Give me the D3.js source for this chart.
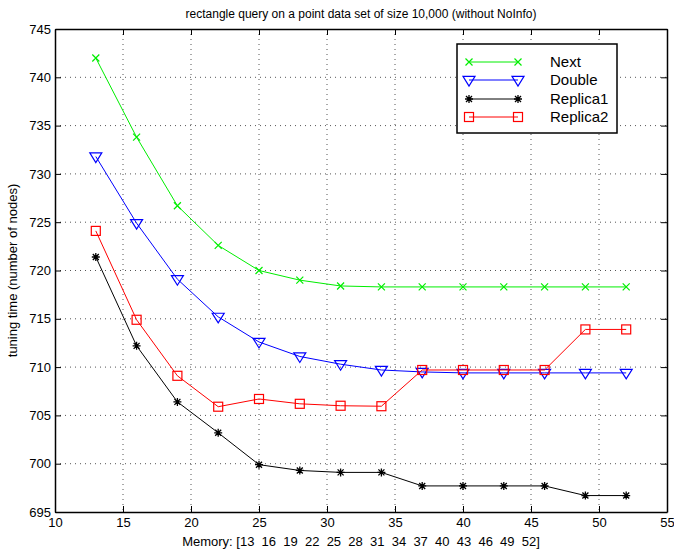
<!DOCTYPE html>
<html><head><meta charset="utf-8">
<script src="https://cdn.jsdelivr.net/npm/d3@7"></script>
<style>body{margin:0;background:#fff}svg{display:block;font-family:"Liberation Sans",Arial,sans-serif}</style>
</head><body><div id="chart"></div>
<script>
const memory = [13,16,19,22,25,28,31,34,37,40,43,46,49,52];
const nextVals = [742,733.8,726.7,722.6,720,719,718.4,718.3,718.3,718.3,718.3,718.3,718.3,718.3];
const doubleVals = [731.8,724.9,719.1,715.2,712.6,711.1,710.3,709.7,709.5,709.4,709.4,709.4,709.4,709.4];
const replica1Vals = [721.4,712.2,706.4,703.2,699.9,699.3,699.1,699.1,697.7,697.7,697.7,697.7,696.7,696.7];
const replica2Vals = [724.1,714.9,709.1,705.9,706.7,706.2,706.0,705.95,709.7,709.7,709.7,709.7,713.9,713.9];
const seriesNames = ["Next","Double","Replica1","Replica2"];
const seriesColors = ["#00ee00","#0000ff","#000000","#ff0000"];
const seriesMarkers = ["x","tri","star","square"];
const xTicks = [10,15,20,25,30,35,40,45,50,55];
const yTicks = [695,700,705,710,715,720,725,730,735,740,745];
const titleText = "rectangle query on a point data set of size 10,000 (without NoInfo)";
const xLabel = "Memory: [13  16  19  22  25  28  31  34  37  40  43  46  49  52]";
const yLabel = "tuning time (number of nodes)";

const W = 674, H = 552;
const L = 55, R = 667, T = 29, B = 512;
const svg = d3.select("#chart").append("svg").attr("width", W).attr("height", H);
const x = d3.scaleLinear().domain([10,55]).range([L,R]);
const y = d3.scaleLinear().domain([695,745]).range([B,T]);

// grid
const g = svg.append("g");
xTicks.slice(1,-1).forEach(t => g.append("line").attr("x1",x(t)).attr("x2",x(t)).attr("y1",T).attr("y2",B)
  .attr("stroke","#555").attr("stroke-width",1).attr("stroke-dasharray","1,4"));
yTicks.slice(1,-1).forEach(t => g.append("line").attr("x1",L).attr("x2",R).attr("y1",y(t)).attr("y2",y(t))
  .attr("stroke","#555").attr("stroke-width",1).attr("stroke-dasharray","1,4"));

// axes with inward ticks
const ax = svg.append("g").attr("font-size",13);
const axBottom = ax.append("g").attr("transform",`translate(0,${B})`).call(d3.axisBottom(x).tickValues(xTicks).tickSizeInner(-6).tickSizeOuter(0).tickPadding(10));
const axTop = ax.append("g").attr("transform",`translate(0,${T})`).call(d3.axisTop(x).tickValues(xTicks).tickSizeInner(-6).tickSizeOuter(0).tickFormat(""));
const axLeft = ax.append("g").attr("transform",`translate(${L},0)`).call(d3.axisLeft(y).tickValues(yTicks).tickSizeInner(-6).tickSizeOuter(0).tickPadding(10));
const axRight = ax.append("g").attr("transform",`translate(${R},0)`).call(d3.axisRight(y).tickValues(yTicks).tickSizeInner(-6).tickSizeOuter(0).tickFormat(""));
ax.selectAll(".domain").attr("stroke","#000").attr("stroke-width",1.5);
ax.selectAll(".tick line").attr("stroke","#000");
ax.selectAll("text").attr("font-family","Liberation Sans, Arial, sans-serif").attr("font-size",13).attr("fill","#000");
axBottom.selectAll("text").attr("dy","0.71em").attr("y",6);
axLeft.selectAll("text").attr("x",-4);

// title & labels
svg.append("text").attr("x",(L+R)/2).attr("y",18).attr("text-anchor","middle").attr("font-size",12).text(titleText);
svg.append("text").attr("x",(L+R)/2).attr("y",546).attr("text-anchor","middle").attr("font-size",13).attr("xml:space","preserve").style("white-space","pre").text(xLabel);
svg.append("text").attr("transform",`translate(17,${(T+B)/2}) rotate(-90)`).attr("text-anchor","middle").attr("font-size",13).text(yLabel);

function drawMarker(sel, type, color, cx, cy){
  if(type==="x"){
    const s=3.5;
    sel.append("path").attr("d",`M${cx-s},${cy-s}L${cx+s},${cy+s}M${cx-s},${cy+s}L${cx+s},${cy-s}`).attr("stroke",color).attr("stroke-width",1.2).attr("fill","none");
  } else if(type==="tri"){
    const s=6;
    sel.append("path").attr("d",`M${cx-s},${cy-s*0.6}L${cx+s},${cy-s*0.6}L${cx},${cy+s}Z`).attr("stroke",color).attr("stroke-width",1.2).attr("fill","none");
  } else if(type==="star"){
    const s=4;
    sel.append("path").attr("d",`M${cx-s},${cy}L${cx+s},${cy}M${cx},${cy-s}L${cx},${cy+s}M${cx-s*0.75},${cy-s*0.75}L${cx+s*0.75},${cy+s*0.75}M${cx-s*0.75},${cy+s*0.75}L${cx+s*0.75},${cy-s*0.75}`).attr("stroke",color).attr("stroke-width",1.3).attr("fill","none");
  } else {
    const s=4.5;
    sel.append("rect").attr("x",cx-s).attr("y",cy-s).attr("width",2*s).attr("height",2*s).attr("stroke",color).attr("stroke-width",1.2).attr("fill","none");
  }
}

const allVals = [nextVals,doubleVals,replica1Vals,replica2Vals];
const line = d3.line().x((d,i)=>x(memory[i])).y(d=>y(d));
allVals.forEach((vals,si)=>{
  const sg = svg.append("g");
  sg.append("path").datum(vals).attr("d",line).attr("fill","none").attr("stroke",seriesColors[si]).attr("stroke-width",1);
  vals.forEach((v,i)=>drawMarker(sg, seriesMarkers[si], seriesColors[si], x(memory[i]), y(v)));
});

// legend
const lg = svg.append("g");
lg.append("rect").attr("x",457).attr("y",44).attr("width",160).attr("height",89).attr("fill","#fff").attr("stroke","#000").attr("stroke-width",1.5);
const legY = [62,80,99,117];
seriesNames.forEach((n,i)=>{
  lg.append("line").attr("x1",469).attr("x2",518).attr("y1",legY[i]).attr("y2",legY[i]).attr("stroke",seriesColors[i]).attr("stroke-width",1);
  drawMarker(lg, seriesMarkers[i], seriesColors[i], 469, legY[i]);
  drawMarker(lg, seriesMarkers[i], seriesColors[i], 518, legY[i]);
  lg.append("text").attr("x",550).attr("y",legY[i]).attr("dy","0.35em").attr("font-size",15).text(n);
});
</script></body></html>
